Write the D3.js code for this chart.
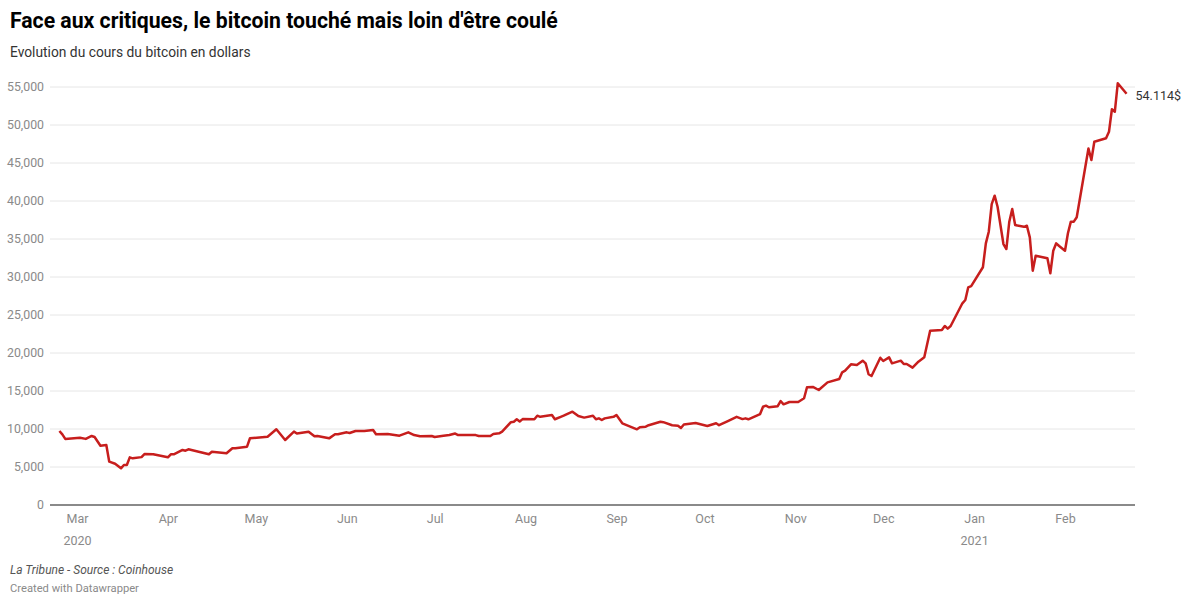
<!DOCTYPE html>
<html>
<head>
<meta charset="utf-8">
<script src="https://cdn.jsdelivr.net/npm/d3@7"></script>
<style>
  body { margin: 0; background: #fff; font-family: Roboto, "Noto Sans", sans-serif; }
  .tick text { fill: #8a8a8a; font-size: 12.5px; font-family: Roboto, sans-serif; }
</style>
</head>
<body>
<div id="chart"></div>
<script>
// Data (date, price in $)
const dates = [
  "2020-02-24","2020-02-25","2020-02-26","2020-03-02","2020-03-04","2020-03-06","2020-03-07","2020-03-09",
  "2020-03-11","2020-03-12","2020-03-14","2020-03-16","2020-03-17","2020-03-18","2020-03-19","2020-03-20",
  "2020-03-23","2020-03-24","2020-03-27","2020-04-01","2020-04-02","2020-04-03","2020-04-06","2020-04-07",
  "2020-04-08","2020-04-15","2020-04-16","2020-04-21","2020-04-23","2020-04-24","2020-04-28","2020-04-29",
  "2020-05-05","2020-05-08","2020-05-11","2020-05-14","2020-05-15","2020-05-19","2020-05-21","2020-05-22",
  "2020-05-26","2020-05-28","2020-05-29","2020-06-01","2020-06-02","2020-06-04","2020-06-07","2020-06-10",
  "2020-06-11","2020-06-15","2020-06-19","2020-06-22","2020-06-24","2020-06-26","2020-06-30","2020-07-01",
  "2020-07-04","2020-07-06","2020-07-08","2020-07-09","2020-07-15","2020-07-16","2020-07-20","2020-07-21",
  "2020-07-23","2020-07-24","2020-07-27","2020-07-28","2020-07-29","2020-07-30","2020-07-31","2020-08-04",
  "2020-08-05","2020-08-06","2020-08-10","2020-08-11","2020-08-13","2020-08-14","2020-08-17","2020-08-19",
  "2020-08-21","2020-08-24","2020-08-25","2020-08-26","2020-08-27","2020-08-28","2020-08-31","2020-09-01",
  "2020-09-03","2020-09-08","2020-09-09","2020-09-11","2020-09-12","2020-09-16","2020-09-17","2020-09-20",
  "2020-09-22","2020-09-23","2020-09-24","2020-09-28","2020-09-29","2020-10-02","2020-10-05","2020-10-06",
  "2020-10-09","2020-10-12","2020-10-14","2020-10-15","2020-10-16","2020-10-20","2020-10-21","2020-10-22",
  "2020-10-23","2020-10-26","2020-10-27","2020-10-28","2020-10-30","2020-11-02","2020-11-04","2020-11-05",
  "2020-11-07","2020-11-09","2020-11-12","2020-11-16","2020-11-17","2020-11-18","2020-11-20","2020-11-22",
  "2020-11-24","2020-11-25","2020-11-26","2020-11-27","2020-11-30","2020-12-01","2020-12-03","2020-12-04",
  "2020-12-07","2020-12-08","2020-12-09","2020-12-11","2020-12-13","2020-12-15","2020-12-17","2020-12-21",
  "2020-12-22","2020-12-23","2020-12-24","2020-12-28","2020-12-29","2020-12-30","2020-12-31","2021-01-04",
  "2021-01-05","2021-01-06","2021-01-07","2021-01-08","2021-01-09","2021-01-11","2021-01-12","2021-01-13",
  "2021-01-14","2021-01-15","2021-01-18","2021-01-19","2021-01-20","2021-01-21","2021-01-22","2021-01-26",
  "2021-01-27","2021-01-28","2021-01-29","2021-01-30","2021-02-01","2021-02-02","2021-02-03","2021-02-04",
  "2021-02-05","2021-02-09","2021-02-10","2021-02-11","2021-02-15","2021-02-16","2021-02-17","2021-02-18",
  "2021-02-19","2021-02-22"
];
const prices = [
  9740, 9300, 8700, 8860, 8700, 9080, 8950, 7800,
  7900, 5700, 5430, 4830, 5260, 5260, 6270, 6140,
  6300, 6700, 6670, 6270, 6670, 6670, 7240, 7150,
  7330, 6670, 7000, 6800, 7460, 7460, 7670, 8780,
  8990, 9960, 8550, 9650, 9400, 9650, 9040, 9080,
  8770, 9300, 9300, 9560, 9470, 9740, 9740, 9870,
  9300, 9340, 9120, 9560, 9200, 9040, 9080, 8950,
  9120, 9200, 9400, 9200, 9200, 9080, 9080, 9340,
  9430, 9650, 10900, 10960, 11280, 11000, 11300, 11280,
  11750, 11600, 11840, 11280, 11600, 11750, 12280, 11700,
  11500, 11750, 11280, 11400, 11180, 11400, 11600, 11840,
  10750, 9960, 10220, 10300, 10500, 10960, 10900, 10500,
  10430, 10130, 10600, 10800, 10700, 10400, 10750, 10500,
  11050, 11600, 11300, 11400, 11280, 11970, 12930, 13070,
  12860, 13000, 13680, 13250, 13550, 13550, 14040, 15490,
  15530, 15130, 16140, 16580, 17460, 17670, 18510, 18420,
  18990, 18640, 17200, 16970, 19380, 18950, 19430, 18640,
  18990, 18550, 18550, 18070, 18860, 19430, 22930, 23030,
  23550, 23200, 23550, 26540, 26970, 28640, 28800, 31280,
  34430, 35960, 39600, 40700, 39250, 34340, 33680, 37280,
  38950, 36840, 36600, 36750, 35220, 30830, 32800, 32460,
  30490, 33460, 34430, 34080, 33460, 35750, 37280, 37280,
  37860, 46900, 45400, 47800, 48250, 49100, 52070, 51750,
  55500, 54114
];
const yTicks = [0, 5000, 10000, 15000, 20000, 25000, 30000, 35000, 40000, 45000, 50000, 55000];
const monthTicks = ["2020-03-01","2020-04-01","2020-05-01","2020-06-01","2020-07-01","2020-08-01",
  "2020-09-01","2020-10-01","2020-11-01","2020-12-01","2021-01-01","2021-02-01"];
const endLabel = "54.114$";

const W = 1200, H = 609;
const parse = d3.timeParse("%Y-%m-%d");
const data = dates.map((d, i) => ({ date: parse(d), value: prices[i] }));

const svg = d3.select("#chart").append("svg")
  .attr("width", W).attr("height", H);

// Titles
svg.append("text")
  .attr("x", 10).attr("y", 28)
  .attr("font-size", 21.2).attr("font-weight", 700).attr("fill", "#000")
  .text("Face aux critiques, le bitcoin touché mais loin d'être coulé");
svg.append("text")
  .attr("x", 10).attr("y", 57)
  .attr("font-size", 13.8).attr("fill", "#333")
  .text("Evolution du cours du bitcoin en dollars");

// Scales
const x = d3.scaleTime()
  .domain([parse("2020-03-01"), parse("2021-02-01")])
  .range([77, 1065]);
const y = d3.scaleLinear().domain([0, 55000]).range([505, 87]);

// Gridlines + y labels
svg.append("g").selectAll("line").data(yTicks).join("line")
  .attr("x1", 50).attr("x2", 1135)
  .attr("y1", d => y(d)).attr("y2", d => y(d))
  .attr("stroke", d => d === 0 ? "#8a8a8a" : "#e6e6e6")
  .attr("stroke-width", d => d === 0 ? 2 : 1);

svg.append("g").selectAll("text").data(yTicks).join("text")
  .attr("x", 44).attr("y", d => y(d))
  .attr("dy", "0.35em").attr("text-anchor", "end")
  .attr("font-size", 12.3).attr("fill", "#8a8a8a")
  .text(d => d3.format(",")(d));

// X axis
const fmt = d3.timeFormat("%b");
const xAxis = d3.axisBottom(x)
  .tickValues(monthTicks.map(parse))
  .tickSize(0).tickPadding(8)
  .tickFormat(d => fmt(d));
const gx = svg.append("g")
  .attr("transform", "translate(0,506)")
  .call(xAxis);
gx.select(".domain").remove();
gx.selectAll(".tick")
  .filter(d => d.getMonth() === 0 || (d.getMonth() === 2 && d.getFullYear() === 2020))
  .append("text")
  .attr("y", 30).attr("dy", "0.71em")
  .attr("text-anchor", "middle")
  .text(d => d.getFullYear());

// Line
const line = d3.line()
  .x(d => x(d.date))
  .y(d => y(d.value));
svg.append("path")
  .datum(data)
  .attr("fill", "none")
  .attr("stroke", "#c71e1d")
  .attr("stroke-width", 2.5)
  .attr("stroke-linejoin", "round")
  .attr("d", line);

// End label
const last = data[data.length - 1];
svg.append("text")
  .attr("x", x(last.date) + 9).attr("y", y(last.value) + 2)
  .attr("dy", "0.35em")
  .attr("font-size", 12.5).attr("fill", "#333")
  .text(endLabel);

// Footer
svg.append("text")
  .attr("x", 10).attr("y", 574)
  .attr("font-size", 12).attr("font-style", "italic").attr("fill", "#555")
  .text("La Tribune - Source : Coinhouse");
svg.append("text")
  .attr("x", 10).attr("y", 592)
  .attr("font-size", 11.2).attr("fill", "#8a8a8a")
  .text("Created with Datawrapper");
</script>
</body>
</html>
